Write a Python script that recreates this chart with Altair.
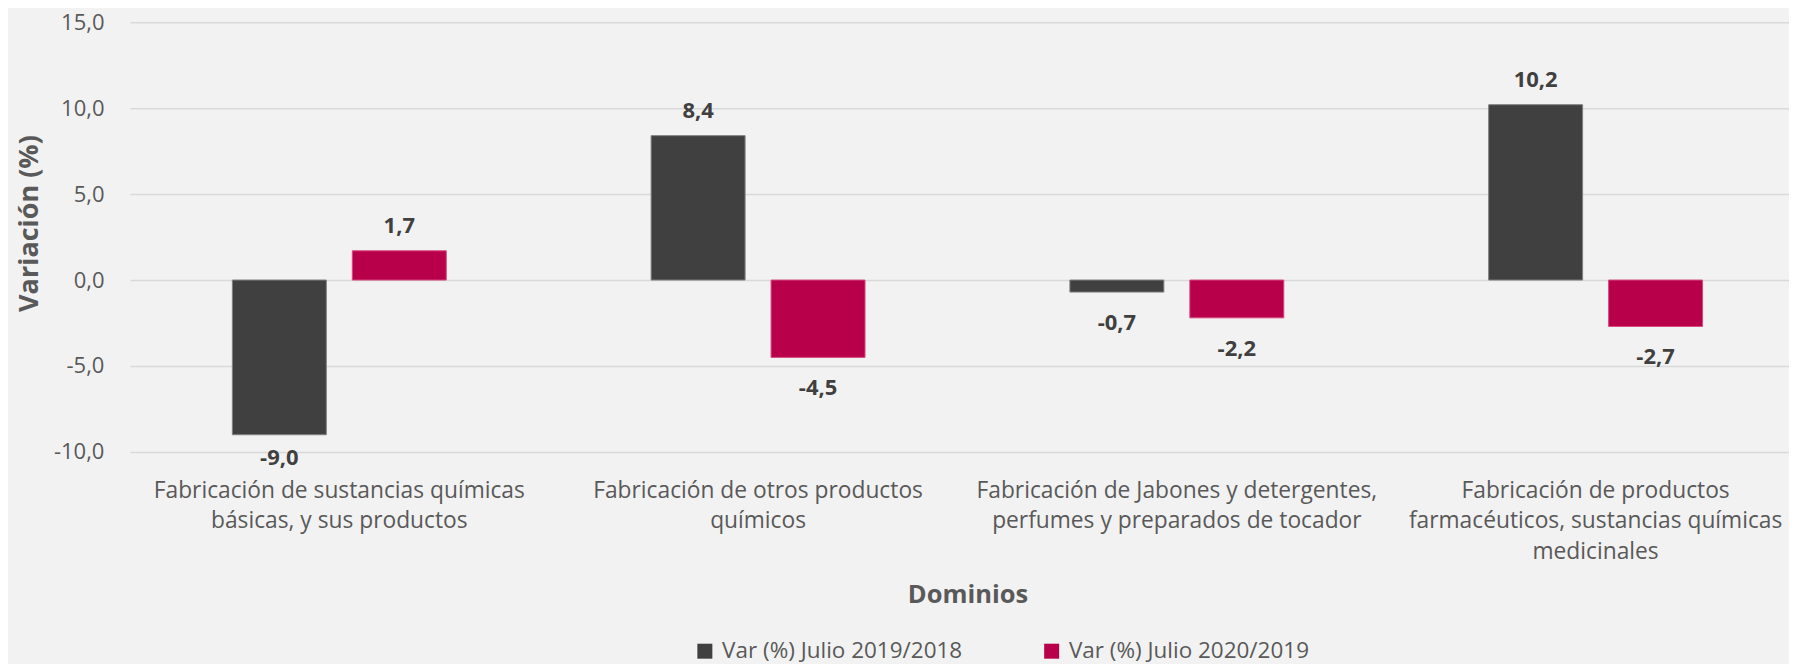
import altair as alt
import pandas as pd

categories = [
    "Fabricación de sustancias químicas|básicas, y sus productos",
    "Fabricación de otros productos|químicos",
    "Fabricación de Jabones y detergentes,|perfumes y preparados de tocador",
    "Fabricación de productos|farmacéuticos, sustancias químicas|medicinales",
]
series = ["Var (%) Julio 2019/2018", "Var (%) Julio 2020/2019"]
values_2019 = [-9.0, 8.4, -0.7, 10.2]
values_2020 = [1.7, -4.5, -2.2, -2.7]
colors = ["#404040", "#B8004A"]
stroke_colors = ["#7f7f7f", "#d9487e"]
y_ticks = [-10, -5, 0, 5, 10, 15]

rows = []
for c, a, b in zip(categories, values_2019, values_2020):
    rows.append({"cat": c, "serie": series[0], "v": a})
    rows.append({"cat": c, "serie": series[1], "v": b})
df = pd.DataFrame(rows)

FONT = "Open Sans"
W, H = 1660, 430
STEP_RANGE = 1676
FMT = "replace(replace(format({v}, '.1f'), '.', ','), '\u2212', '-')"

x = alt.X(
    "cat:N",
    sort=categories,
    scale=alt.Scale(range=[0, STEP_RANGE], paddingInner=0, paddingOuter=0),
    axis=alt.Axis(
        title="Dominios",
        labelExpr="split(datum.label, '|')",
        labelFontSize=22.8,
        labelColor="#595959",
        labelFont=FONT,
        labelLineHeight=30.5,
        labelPadding=27.5,
        labelLimit=0,
        labelAngle=0,
        ticks=False,
        domain=False,
        grid=False,
        titleFont=FONT,
        titleFontSize=25.5,
        titleFontWeight="bold",
        titleColor="#595959",
        titleX=838,
        titleY=151,
        titleAlign="center",
        titleBaseline="alphabetic",
        titleAngle=0,
    ),
)
xo = alt.XOffset(
    "serie:N",
    sort=series,
    scale=alt.Scale(paddingInner=0.2167, paddingOuter=0.854),
)
y = alt.Y(
    "v:Q",
    scale=alt.Scale(domain=[-10, 15], nice=False, zero=False),
    axis=alt.Axis(
        title="Variación (%)",
        values=y_ticks,
        labelExpr=FMT.format(v="datum.value"),
        labelFontSize=22,
        labelColor="#595959",
        labelFont=FONT,
        labelPadding=26,
        ticks=False,
        domain=False,
        gridColor="#d9d9d9",
        gridWidth=1.5,
        titleFont=FONT,
        titleFontSize=27,
        titleFontWeight="bold",
        titleColor="#595959",
        titleAngle=-90,
        titleX=-92.7,
        titleY=201,
        titleAlign="center",
        titleBaseline="alphabetic",
    ),
)

bars = alt.Chart(df).mark_bar(strokeWidth=1).encode(
    x=x,
    xOffset=xo,
    y=y,
    fill=alt.Fill(
        "serie:N",
        sort=series,
        scale=alt.Scale(domain=series, range=colors),
        legend=alt.Legend(
            title=None,
            orient="none",
            direction="horizontal",
            legendX=564,
            legendY=618,
            symbolType="square",
            symbolSize=225,
            symbolStrokeWidth=0,
            labelFont=FONT,
            labelFontSize=22.5,
            labelColor="#595959",
            labelOffset=6,
            columnPadding=78,
            padding=0,
            labelLimit=0,
        ),
    ),
    stroke=alt.Stroke(
        "serie:N",
        sort=series,
        scale=alt.Scale(domain=series, range=stroke_colors),
        legend=None,
    ),
)

base_text = alt.Chart(df).transform_calculate(
    lbl=FMT.format(v="datum.v"),
    ly="max(datum.v, -8.55)",
)
enc = dict(
    x=alt.X("cat:N", sort=categories),
    xOffset=alt.XOffset("serie:N", sort=series),
    text="lbl:N",
)
pos_text = base_text.transform_filter("datum.v >= 0").mark_text(
    font=FONT, fontSize=22, fontWeight="bold", color="#404040",
    baseline="alphabetic", dy=-18,
).encode(y="v:Q", **enc)
neg_text = base_text.transform_filter("datum.v < 0").mark_text(
    font=FONT, fontSize=22, fontWeight="bold", color="#404040",
    baseline="alphabetic", dy=38,
).encode(y="ly:Q", **enc)

chart = (
    alt.layer(bars, pos_text, neg_text)
    .properties(
        width=W,
        height=H,
        autosize=alt.AutoSizeParams(type="none"),
        padding={"left": 122, "top": 14, "right": 0, "bottom": 212},
        background="#f2f2f2",
    )
    .configure_view(stroke=None)
)

chart.save("out.html", embed_options={"renderer": "svg", "actions": False})
